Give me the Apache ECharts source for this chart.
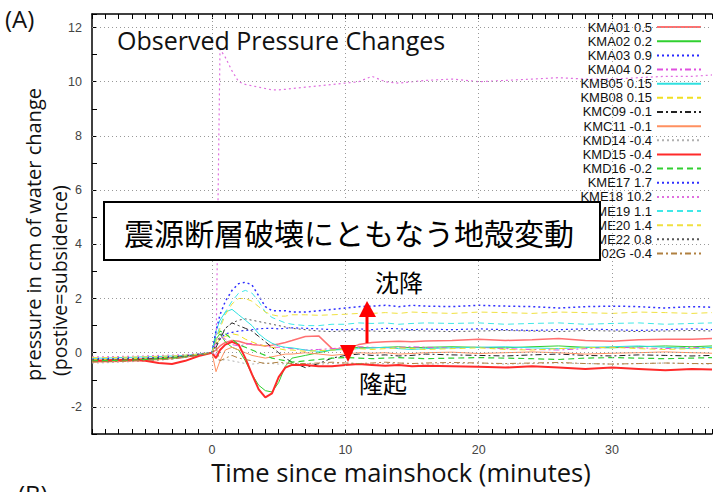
<!DOCTYPE html>
<html><head><meta charset="utf-8">
<script src="https://cdn.jsdelivr.net/npm/echarts@6/dist/echarts.min.js"></script>
<style>html,body{margin:0;padding:0;background:#fff}#c{width:715px;height:492px}</style>
</head><body><div id="c"></div>
<script>
// time (minutes since mainshock)
const T = [-9,-8,-7,-6,-5,-4,-3,-2,-1,0, 0.3,0.6,1,1.5,2,2.5,3,3.5,4,4.5,5,5.5,6, 7,8,9,10,11,12,13,14,15,16, 18,20,22,24,26,28,30,32,34,36,37.5];
const names = ['KMA01 0.5','KMA02 0.2','KMA03 0.9','KMA04 0.2','KMB05 0.15','KMB08 0.15','KMC09 -0.1','KMC11 -0.1','KMD14 -0.4','KMD15 -0.4','KMD16 -0.2','KME17 1.7','KME18 10.2','KME19 1.1','KME20 1.4','KME22 0.8','KMF02G -0.4'];
const KMA01 = [-0.28,-0.27,-0.25,-0.24,-0.22,-0.2,-0.18,-0.14,-0.08,0, 0.1,0.25,0.38,0.45,0.42,0.35,0.3,0.28,0.25,0.28,0.32,0.38,0.45, 0.6,0.62,0.15,0.12,0.3,0.38,0.4,0.42,0.4,0.43, 0.45,0.5,0.45,0.48,0.52,0.45,0.42,0.48,0.5,0.5,0.52];
const KMA02 = [-0.3,-0.3,-0.28,-0.26,-0.25,-0.22,-0.2,-0.15,-0.08,0, 0.5,0.7,0.4,0.2,0.1,-0.3,-0.8,-1.2,-1.4,-1.45,-1.1,-0.5,-0.2, -0.1,0.0,0.1,0.15,0.2,0.18,0.2,0.22,0.18,0.2, 0.22,0.2,0.18,0.22,0.25,0.2,0.18,0.22,0.25,0.22,0.25];
const KMA03 = [-0.25,-0.24,-0.23,-0.22,-0.2,-0.18,-0.15,-0.12,-0.06,0, 0.3,0.5,0.7,0.75,0.8,0.82,0.85,0.88,0.9,0.9,0.88,0.9,0.92, 0.9,0.88,0.85,0.85,0.88,0.85,0.9,0.88,0.85,0.87, 0.85,0.88,0.85,0.82,0.85,0.88,0.85,0.82,0.85,0.88,0.85];
const KMA04 = [-0.32,-0.3,-0.3,-0.28,-0.27,-0.25,-0.22,-0.17,-0.1,0, 0.4,0.6,0.5,0.3,0.25,0.3,0.35,0.3,0.25,0.2,0.2,0.18,0.15, 0.1,0.12,0.15,0.2,0.22,0.2,0.18,0.2,0.22,0.2, 0.18,0.2,0.15,0.12,0.1,0.15,0.2,0.18,0.15,0.2,0.18];
const KMB05 = [-0.2,-0.2,-0.18,-0.17,-0.15,-0.14,-0.12,-0.1,-0.05,0, 0.8,1.2,1.5,1.6,1.4,1.2,1.0,0.7,0.5,0.35,0.25,0.2,0.18, 0.1,0.05,0.1,0.12,0.15,0.18,0.2,0.15,0.12,0.15, 0.18,0.2,0.22,0.18,0.15,0.2,0.22,0.25,0.2,0.15,0.2];
const KMB08 = [-0.25,-0.25,-0.24,-0.22,-0.2,-0.18,-0.16,-0.12,-0.06,0, 0.3,0.5,0.6,0.7,0.65,0.5,0.4,0.3,0.25,0.2,0.15,0.1,0.1, 0.05,0.08,0.1,0.12,0.15,0.12,0.15,0.18,0.15,0.12, 0.15,0.18,0.12,0.1,0.15,0.18,0.2,0.15,0.12,0.15,0.15];
const KMC09 = [-0.3,-0.28,-0.27,-0.26,-0.24,-0.22,-0.2,-0.14,-0.07,0, 0.2,0.5,0.9,1.1,1.0,0.9,0.8,0.6,0.4,0.2,0.0,-0.2,-0.35, -0.55,-0.4,-0.2,-0.1,-0.05,-0.1,-0.08,-0.12,-0.1,-0.05, -0.08,-0.1,-0.12,-0.08,-0.05,-0.1,-0.12,-0.08,-0.1,-0.12,-0.1];
const KMC11 = [-0.35,-0.34,-0.33,-0.3,-0.28,-0.26,-0.22,-0.16,-0.08,0, -0.7,-0.3,0.1,0.2,0.1,0.0,-0.1,-0.15,-0.2,-0.15,-0.1,-0.05,-0.05, 0.0,-0.05,-0.1,-0.05,0.0,-0.02,0.0,-0.05,-0.03,0.0, 0.02,-0.03,0.0,0.03,0.0,-0.05,-0.02,0.0,0.03,0.0,-0.02];
const KMD14 = [-0.38,-0.37,-0.35,-0.33,-0.3,-0.28,-0.24,-0.18,-0.1,0, -0.2,-0.3,-0.25,-0.3,-0.35,-0.4,-0.42,-0.4,-0.38,-0.4,-0.42,-0.4,-0.38, -0.4,-0.42,-0.4,-0.38,-0.4,-0.42,-0.4,-0.38,-0.4,-0.42, -0.4,-0.38,-0.42,-0.4,-0.38,-0.4,-0.42,-0.4,-0.38,-0.4,-0.42];
const KMD15 = [-0.3,-0.3,-0.28,-0.27,-0.3,-0.38,-0.42,-0.3,-0.12,0, -0.2,0.1,0.3,0.4,0.3,-0.2,-0.8,-1.35,-1.65,-1.5,-0.9,-0.55,-0.45, -0.45,-0.5,-0.5,-0.45,-0.42,-0.45,-0.48,-0.45,-0.5,-0.48, -0.5,-0.52,-0.55,-0.5,-0.55,-0.6,-0.55,-0.6,-0.65,-0.6,-0.62];
const KMD16 = [-0.3,-0.29,-0.28,-0.27,-0.25,-0.23,-0.2,-0.15,-0.08,0, 0.6,0.8,0.7,0.5,0.3,0.2,0.1,0.0,-0.1,-0.2,-0.25,-0.3,-0.35, -0.3,-0.25,-0.2,-0.18,-0.2,-0.22,-0.2,-0.18,-0.2,-0.22, -0.2,-0.18,-0.2,-0.22,-0.25,-0.2,-0.18,-0.2,-0.22,-0.2,-0.18];
const KME17 = [-0.22,-0.21,-0.2,-0.19,-0.18,-0.16,-0.14,-0.1,-0.05,0, 0.8,1.4,1.9,2.3,2.55,2.6,2.5,2.1,1.7,1.55,1.55,1.55,1.5, 1.5,1.55,1.6,1.65,1.7,1.72,1.75,1.7,1.75,1.72, 1.7,1.75,1.72,1.7,1.65,1.7,1.72,1.7,1.65,1.7,1.68];
const KME18 = [-0.15,-0.15,-0.14,-0.13,-0.12,-0.1,-0.09,-0.07,-0.04,0, -0.1,11.2,10.9,10.4,10.0,9.9,9.85,9.8,9.75,9.7,9.7,9.72,9.75, 9.8,9.85,9.9,9.95,10.0,10.2,10.0,9.95,10.0,10.05, 10.1,10.0,10.05,10.1,10.15,10.1,10.1,10.15,10.2,10.2,10.25];
const KME19 = [-0.2,-0.2,-0.19,-0.18,-0.17,-0.15,-0.13,-0.1,-0.05,0, 0.5,1.0,1.5,1.9,2.2,2.3,2.2,1.9,1.5,1.3,1.2,1.1,1.05, 1.0,1.0,1.05,1.05,1.1,1.08,1.1,1.05,1.08,1.1, 1.08,1.1,1.05,1.08,1.1,1.05,1.08,1.1,1.05,1.08,1.1];
const KME20 = [-0.18,-0.18,-0.17,-0.16,-0.15,-0.13,-0.12,-0.09,-0.05,0, 0.4,0.9,1.4,1.8,2.0,2.0,1.9,1.7,1.5,1.4,1.35,1.35,1.4, 1.4,1.38,1.4,1.42,1.45,1.45,1.48,1.45,1.5,1.48, 1.45,1.5,1.48,1.45,1.5,1.48,1.45,1.5,1.48,1.45,1.48];
const KME22 = [-0.26,-0.25,-0.24,-0.23,-0.21,-0.19,-0.16,-0.12,-0.06,0, 0.3,0.6,0.9,1.1,1.2,1.25,1.2,1.15,1.1,1.05,1.0,0.95,0.9, 0.85,0.8,0.78,0.8,0.82,0.8,0.78,0.8,0.82,0.8, 0.78,0.8,0.82,0.8,0.78,0.82,0.8,0.78,0.8,0.82,0.8];
const KMF02G = [-0.34,-0.33,-0.32,-0.3,-0.28,-0.26,-0.23,-0.17,-0.09,0, 0.2,-0.3,-0.2,-0.1,-0.2,-0.25,-0.3,-0.35,-0.4,-0.38,-0.35,-0.38,-0.4, -0.4,-0.38,-0.35,-0.38,-0.4,-0.38,-0.35,-0.38,-0.4,-0.38, -0.36,-0.38,-0.4,-0.38,-0.36,-0.4,-0.42,-0.4,-0.38,-0.4,-0.4];
const values = [KMA01,KMA02,KMA03,KMA04,KMB05,KMB08,KMC09,KMC11,KMD14,KMD15,KMD16,KME17,KME18,KME19,KME20,KME22,KMF02G];
const yGridLines = [-2,0,2,4,6,8,10,12];
const xGridLines = [0,10,20,30];

// styles
const SOLID='solid', DASH=[6,4], DOT=[2,3], DASHDOT=[6,3,2,3];
const colors = ['#ff7070','#30d030','#2a2aff','#e050e0','#30e0e0','#f0e020','#222222','#ff9060','#b0b0b0','#ff2a2a','#30d030','#3030ff','#e070e0','#40e8e8','#f0e040','#555555','#b08040'];
const dashes = [SOLID,SOLID,DOT,DASHDOT,SOLID,DASH,DASHDOT,SOLID,DOT,SOLID,DASH,DOT,DOT,DASH,DASH,DOT,DASHDOT];
const widths = [1.5,1,1.2,1,1,1,1,1,1,2,1.2,1.5,1.2,1,1,1,1];

const series = names.map((n,i)=>({
  name:n, type:'line', symbol:'none', z:2, animation:false,
  data: T.map((t,k)=>[t, values[i][k]]),
  lineStyle:{color:colors[i], width:widths[i], type:dashes[i]},
  itemStyle:{color:colors[i]}
}));
series.unshift({
  name:'grid', type:'line', data:[], z:1, silent:true, animation:false,
  markLine:{symbol:'none', silent:true, animation:false, label:{show:false},
    lineStyle:{color:'#999', type:[1,3], width:1},
    data: yGridLines.map(v=>({yAxis:v})).concat(xGridLines.map(v=>({xAxis:v})))}
});

const chart = echarts.init(document.getElementById('c'), null, {renderer:'svg'});
const lab = {fontFamily:'Liberation Sans', fontSize:12.5, color:'#444'};
chart.setOption({
  backgroundColor:'#fff',
  animation:false,
  grid:{left:92, right:-3, top:14, bottom:58},
  xAxis:[{
    type:'value', min:-9, max:37.5, interval:1,
    axisLine:{show:true, onZero:false, lineStyle:{color:'#000', width:1.5}},
    axisTick:{inside:true, length:5, lineStyle:{color:'#000'}},
    axisLabel:Object.assign({margin:9, formatter:v=> (v%10===0? String(v):'')}, lab),
    splitLine:{show:false}
  },{
    type:'value', position:'top', min:-9, max:37.5, interval:1,
    axisLine:{show:true, onZero:false, lineStyle:{color:'#000', width:1.5}},
    axisTick:{inside:true, length:5, lineStyle:{color:'#000'}},
    axisLabel:{show:false}, splitLine:{show:false}
  }],
  yAxis:{
    type:'value', min:-3, max:12.5, interval:1,
    axisLine:{show:true, onZero:false, lineStyle:{color:'#000', width:1.5}},
    axisTick:{inside:true, length:5, lineStyle:{color:'#000'}},
    axisLabel:Object.assign({margin:10, formatter:v=> (v%2===0? String(v):'')}, lab),
    splitLine:{show:false}
  },
  legend:{
    data:names, orient:'vertical', right:13, top:20, padding:0, itemGap:0,
    itemWidth:44, itemHeight:10, align:'right', selectedMode:false,
    itemStyle:{opacity:0},
    textStyle:{fontFamily:'Liberation Sans', fontSize:13, lineHeight:14.15, color:'#111'}
  },
  series: series,
  graphic:[
    {type:'text', left:5, top:6, z:100, style:{text:'(A)', font:'24px "Open Sans"', fill:'#111'}},
    {type:'text', x:117, y:40, z:100, style:{text:'Observed Pressure Changes', font:'25px "Open Sans"', fill:'#111', textVerticalAlign:'middle'}},
    {type:'rect', z:100, shape:{x:104, y:202, width:496, height:58}, style:{fill:'#fff', stroke:'#000', lineWidth:2}},
    {type:'text', z:101, x:124, y:232, style:{text:'震源断層破壊にともなう地殻変動', font:'30px "Noto Sans CJK JP"', fill:'#000', textVerticalAlign:'middle'}},
    {type:'text', z:101, x:375, y:281, style:{text:'沈降', font:'24px "Noto Sans CJK JP"', fill:'#000', textVerticalAlign:'middle'}},
    {type:'text', z:101, x:359, y:382, style:{text:'隆起', font:'24px "Noto Sans CJK JP"', fill:'#000', textVerticalAlign:'middle'}},
    {type:'line', z:101, shape:{x1:367, y1:314, x2:367, y2:343}, style:{stroke:'#ff0000', lineWidth:3}},
    {type:'polygon', z:101, shape:{points:[[367,301],[359,317],[376,317]]}, style:{fill:'#ff0000'}},
    {type:'polygon', z:101, shape:{points:[[348,362],[340,345],[356,345]]}, style:{fill:'#ff0000'}},
    {type:'text', z:100, x:33, y:381, rotation:Math.PI/2, style:{text:'pressure in cm of water change', font:'20px "Open Sans"', fill:'#111', textAlign:'left', textVerticalAlign:'middle'}},
    {type:'text', z:100, x:59, y:376, rotation:Math.PI/2, style:{text:'(postive=subsidence)', font:'19.5px "Open Sans"', fill:'#111', textAlign:'left', textVerticalAlign:'middle'}},
    {type:'text', z:100, x:401, y:472, style:{text:'Time since mainshock (minutes)', font:'25.5px "Open Sans"', fill:'#111', textAlign:'center', textVerticalAlign:'middle'}},
    {type:'text', z:100, left:18, top:481, style:{text:'(B)', font:'24px "Open Sans"', fill:'#111'}}
  ]
});
</script>
</body></html>
